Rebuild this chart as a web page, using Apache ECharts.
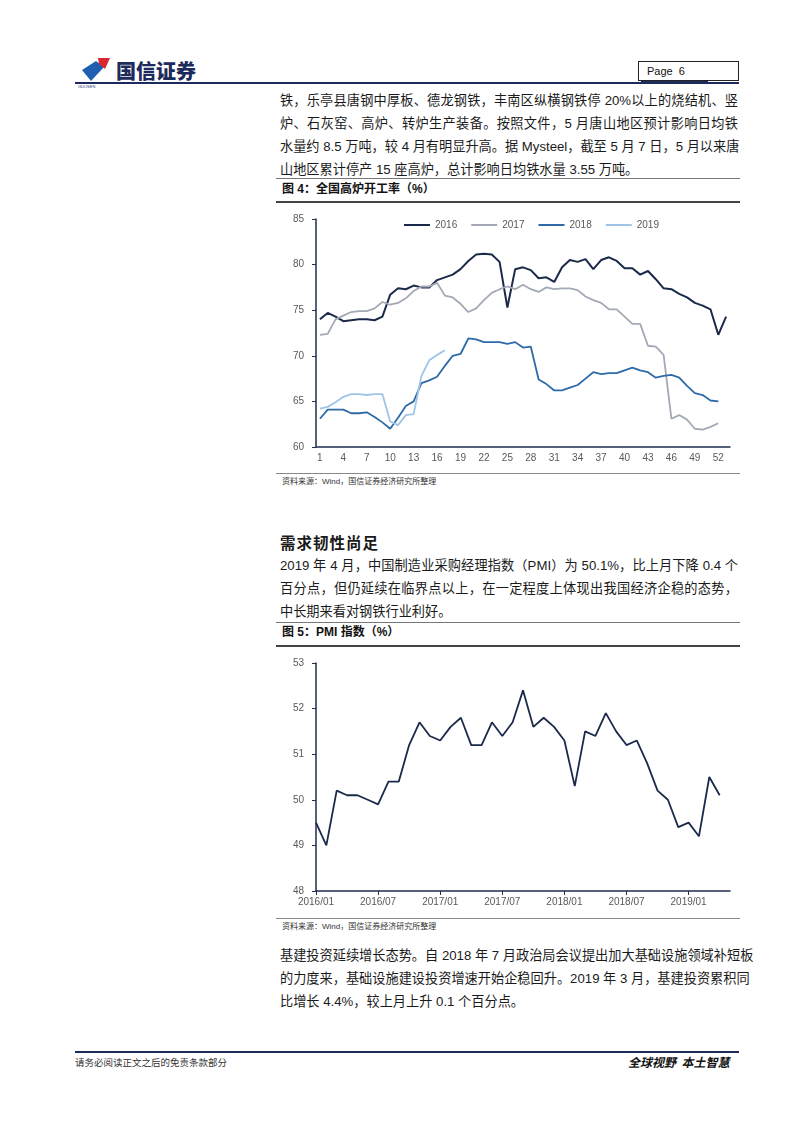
<!DOCTYPE html>
<html>
<head>
<meta charset="utf-8">
<script src="https://cdn.jsdelivr.net/npm/echarts@6/dist/echarts.min.js"></script>
<style>
  html, body { margin:0; padding:0; background:#fff; }
  body { width:802px; height:1133px; position:relative; overflow:hidden;
         font-family: "Liberation Sans", Arial, "Noto Sans CJK SC", sans-serif; color:#1a1a1a; }
  .abs { position:absolute; }
  .ln { position:absolute; left:280px; width:458px; font-size:13.2px; line-height:16px; white-space:nowrap;
        text-align:justify; text-align-last:justify; font-family:"Liberation Sans", Arial, "Noto Sans CJK SC", sans-serif; }
  .ln.last { text-align-last:left; }
  .rule { position:absolute; left:276px; width:464px; }
  .ftitle { position:absolute; left:282px; font-size:12px; font-weight:bold; line-height:14px; color:#111; }
  .src { position:absolute; left:282px; font-size:8px; line-height:10px; color:#333; }
</style>
</head>
<body>
<!-- header -->
<svg class="abs" style="left:78px;top:54px" width="40" height="36" viewBox="0 0 40 36">
  <polygon points="4,16 18,7 26,13 13,27" fill="#1f5fb0"/>
  <polygon points="20,4 32,4 27,15 21,10" fill="#d9282f"/>
  <text x="0" y="34" font-size="4" fill="#1f3a6b" font-family="Liberation Sans">GUOSEN</text>
</svg>
<div class="abs" style="left:116px;top:59px;font-size:20px;font-weight:900;color:#1d2b5c;font-family:'Noto Sans CJK SC';line-height:24px;letter-spacing:0px">国信证券</div>
<div class="abs" style="left:638px;top:61px;width:99px;height:18px;border:1px solid #222;font-size:11px;line-height:18px;color:#111"><span style="margin-left:8px">Page&nbsp;&nbsp;6</span></div>
<div class="abs" style="left:75px;top:82px;width:664px;height:2px;background:#1d2b5c"></div>
<div class="abs" style="left:641px;top:81px;width:67px;height:3px;background:#1d2b5c"></div>

<!-- paragraph 1 -->
<div class="ln" style="top:93px">铁，乐亭县唐钢中厚板、德龙钢铁，丰南区纵横钢铁停 20%以上的烧结机、竖</div>
<div class="ln" style="top:116px">炉、石灰窑、高炉、转炉生产装备。按照文件，5 月唐山地区预计影响日均铁</div>
<div class="ln" style="top:139px">水量约 8.5 万吨，较 4 月有明显升高。据 Mysteel，截至 5 月 7 日，5 月以来唐</div>
<div class="ln last" style="top:162px">山地区累计停产 15 座高炉，总计影响日均铁水量 3.55 万吨。</div>

<!-- figure 4 -->
<div class="rule" style="top:178px;height:1px;background:#777"></div>
<div class="ftitle" style="top:182px">图 4：全国高炉开工率（%）</div>
<div class="rule" style="top:201px;height:2px;background:#444"></div>
<div id="c1" class="abs" style="left:270px;top:203px;width:480px;height:268px"></div>
<div class="rule" style="top:473px;height:1px;background:#888"></div>
<div class="src" style="top:477px">资料来源：Wind，国信证券经济研究所整理</div>

<!-- section -->
<div class="abs" style="left:280px;top:533px;font-size:15.5px;font-weight:bold;line-height:18px;font-family:'Noto Sans CJK SC';letter-spacing:1px">需求韧性尚足</div>
<div class="ln" style="top:558px">2019 年 4 月，中国制造业采购经理指数（PMI）为 50.1%，比上月下降 0.4 个</div>
<div class="ln" style="top:581px">百分点，但仍延续在临界点以上，在一定程度上体现出我国经济企稳的态势，</div>
<div class="ln last" style="top:604px">中长期来看对钢铁行业利好。</div>

<!-- figure 5 -->
<div class="rule" style="top:622px;height:1px;background:#777"></div>
<div class="ftitle" style="top:625px">图 5：PMI 指数（%）</div>
<div class="rule" style="top:645px;height:2px;background:#444"></div>
<div id="c2" class="abs" style="left:270px;top:648px;width:480px;height:270px"></div>
<div class="rule" style="top:918px;height:1px;background:#888"></div>
<div class="src" style="top:922px">资料来源：Wind，国信证券经济研究所整理</div>

<!-- paragraph 3 -->
<div class="ln" style="top:948px">基建投资延续增长态势。自 2018 年 7 月政治局会议提出加大基础设施领域补短板</div>
<div class="ln" style="top:971px">的力度来，基础设施建设投资增速开始企稳回升。2019 年 3 月，基建投资累积同</div>
<div class="ln last" style="top:994px">比增长 4.4%，较上月上升 0.1 个百分点。</div>

<!-- footer -->
<div class="abs" style="left:75px;top:1051px;width:664px;height:2px;background:#1d2b5c"></div>
<div class="abs" style="left:75px;top:1056px;font-size:9.5px;color:#333;line-height:12px;font-family:'Noto Sans CJK SC'">请务必阅读正文之后的免责条款部分</div>
<div class="abs" style="left:628px;top:1054px;font-size:12px;font-weight:bold;font-style:italic;color:#111;line-height:15px;font-family:'Noto Sans CJK SC'">全球视野&nbsp;&nbsp;本土智慧</div>

<script>
// ---------- Figure 4 data: weekly blast furnace operating rate (%) ----------
const weeks = Array.from({length: 53}, (_, i) => String(i + 1));
const bf2016 = [74.0,74.7,74.3,73.8,73.9,74.0,74.0,73.9,74.3,76.7,77.4,77.3,77.7,77.5,77.5,78.3,78.6,78.9,79.5,80.4,81.1,81.2,81.1,80.3,75.3,79.5,79.7,79.4,78.5,78.6,78.1,79.7,80.5,80.3,80.6,79.5,80.5,80.8,80.4,79.6,79.6,78.9,79.3,78.4,77.4,77.3,76.8,76.4,75.8,75.5,75.1,72.3,74.3];
const bf2017 = [72.3,72.4,74.0,74.4,74.8,74.9,74.9,75.2,75.9,75.6,75.8,76.3,77.1,77.6,77.6,78.0,76.6,76.4,75.7,74.8,75.2,76.1,76.9,77.3,77.6,77.3,77.8,77.3,77.0,77.5,77.3,77.4,77.4,77.2,76.5,76.1,75.8,75.1,75.1,74.3,73.5,73.5,71.1,71.0,70.1,63.1,63.5,63.0,62.0,61.9,62.2,62.6];
const bf2018 = [63.1,64.1,64.1,64.1,63.7,63.7,63.8,63.3,62.7,62.0,63.2,64.5,65.0,67.0,67.3,67.7,68.9,70.0,70.2,71.9,71.8,71.5,71.5,71.5,71.3,71.5,70.9,71.0,67.4,66.9,66.2,66.2,66.5,66.8,67.5,68.2,68.0,68.1,68.1,68.4,68.7,68.4,68.2,67.6,67.8,67.9,67.6,66.7,65.9,65.7,65.1,65.0];
const bf2019 = [64.2,64.4,64.9,65.5,65.8,65.8,65.7,65.8,65.8,62.8,62.4,63.5,63.6,67.8,69.5,70.1,70.6];

// ---------- Figure 5 data: monthly PMI ----------
const months = ['2016/01','2016/02','2016/03','2016/04','2016/05','2016/06','2016/07','2016/08','2016/09','2016/10','2016/11','2016/12',
                '2017/01','2017/02','2017/03','2017/04','2017/05','2017/06','2017/07','2017/08','2017/09','2017/10','2017/11','2017/12',
                '2018/01','2018/02','2018/03','2018/04','2018/05','2018/06','2018/07','2018/08','2018/09','2018/10','2018/11','2018/12',
                '2019/01','2019/02','2019/03','2019/04','2019/05'];
const pmi = [49.5,49.0,50.2,50.1,50.1,50.0,49.9,50.4,50.4,51.2,51.7,51.4,
             51.3,51.6,51.8,51.2,51.2,51.7,51.4,51.7,52.4,51.6,51.8,51.6,
             51.3,50.3,51.5,51.4,51.9,51.5,51.2,51.3,50.8,50.2,50.0,49.4,
             49.5,49.2,50.5,50.1];

const axisColor = '#1f2d4e';
const labelStyle = { color:'#595959', fontSize:10, fontFamily:'Liberation Sans, Arial, sans-serif' };

const c1 = echarts.init(document.getElementById('c1'));
function ser(name, data, color, w) {
  return { name, type:'line', data, symbol:'none', lineStyle:{ color, width:w }, itemStyle:{ color }, animation:false };
}
c1.setOption({
  animation:false,
  legend: { top:12, left:129, itemWidth:26, itemHeight:2, itemGap:14, icon:'rect',
            textStyle:{ color:'#595959', fontSize:10, fontFamily:'Liberation Sans, Arial, sans-serif' },
            data:['2016','2017','2018','2019'] },
  grid: { left:46, right:20, top:16, bottom:24 },
  xAxis: { type:'category', data:weeks, boundaryGap:true,
           axisLine:{ lineStyle:{ color:axisColor, width:1.5 } },
           axisTick:{ interval:2, length:4, lineStyle:{ color:axisColor } },
           axisLabel:Object.assign({ interval:2, margin:6 }, labelStyle) },
  yAxis: { type:'value', min:60, max:85, interval:5, splitLine:{ show:false },
           axisLine:{ show:true, lineStyle:{ color:axisColor, width:1.5 } },
           axisTick:{ show:true, length:4, lineStyle:{ color:axisColor } },
           axisLabel:Object.assign({ margin:12 }, labelStyle) },
  series: [
    ser('2016', bf2016, '#1b2a4a', 2),
    ser('2017', bf2017, '#a3a9b5', 1.8),
    ser('2018', bf2018, '#2e6aa8', 1.8),
    ser('2019', bf2019, '#9fc4e6', 1.8)
  ]
});

const c2 = echarts.init(document.getElementById('c2'));
c2.setOption({
  animation:false,
  grid: { left:46, right:20, top:15, bottom:27 },
  xAxis: { type:'category', data:months, boundaryGap:false,
           axisLine:{ lineStyle:{ color:axisColor, width:1.5 } },
           axisTick:{ interval:5, length:4, lineStyle:{ color:axisColor } },
           axisLabel:Object.assign({ interval:5, margin:6 }, labelStyle) },
  yAxis: { type:'value', min:48, max:53, interval:1, splitLine:{ show:false },
           axisLine:{ show:true, lineStyle:{ color:axisColor, width:1.5 } },
           axisTick:{ show:true, length:4, lineStyle:{ color:axisColor } },
           axisLabel:Object.assign({ margin:12 }, labelStyle) },
  series: [ ser('PMI', pmi, '#1b2a4a', 1.8) ]
});
</script>
</body>
</html>
